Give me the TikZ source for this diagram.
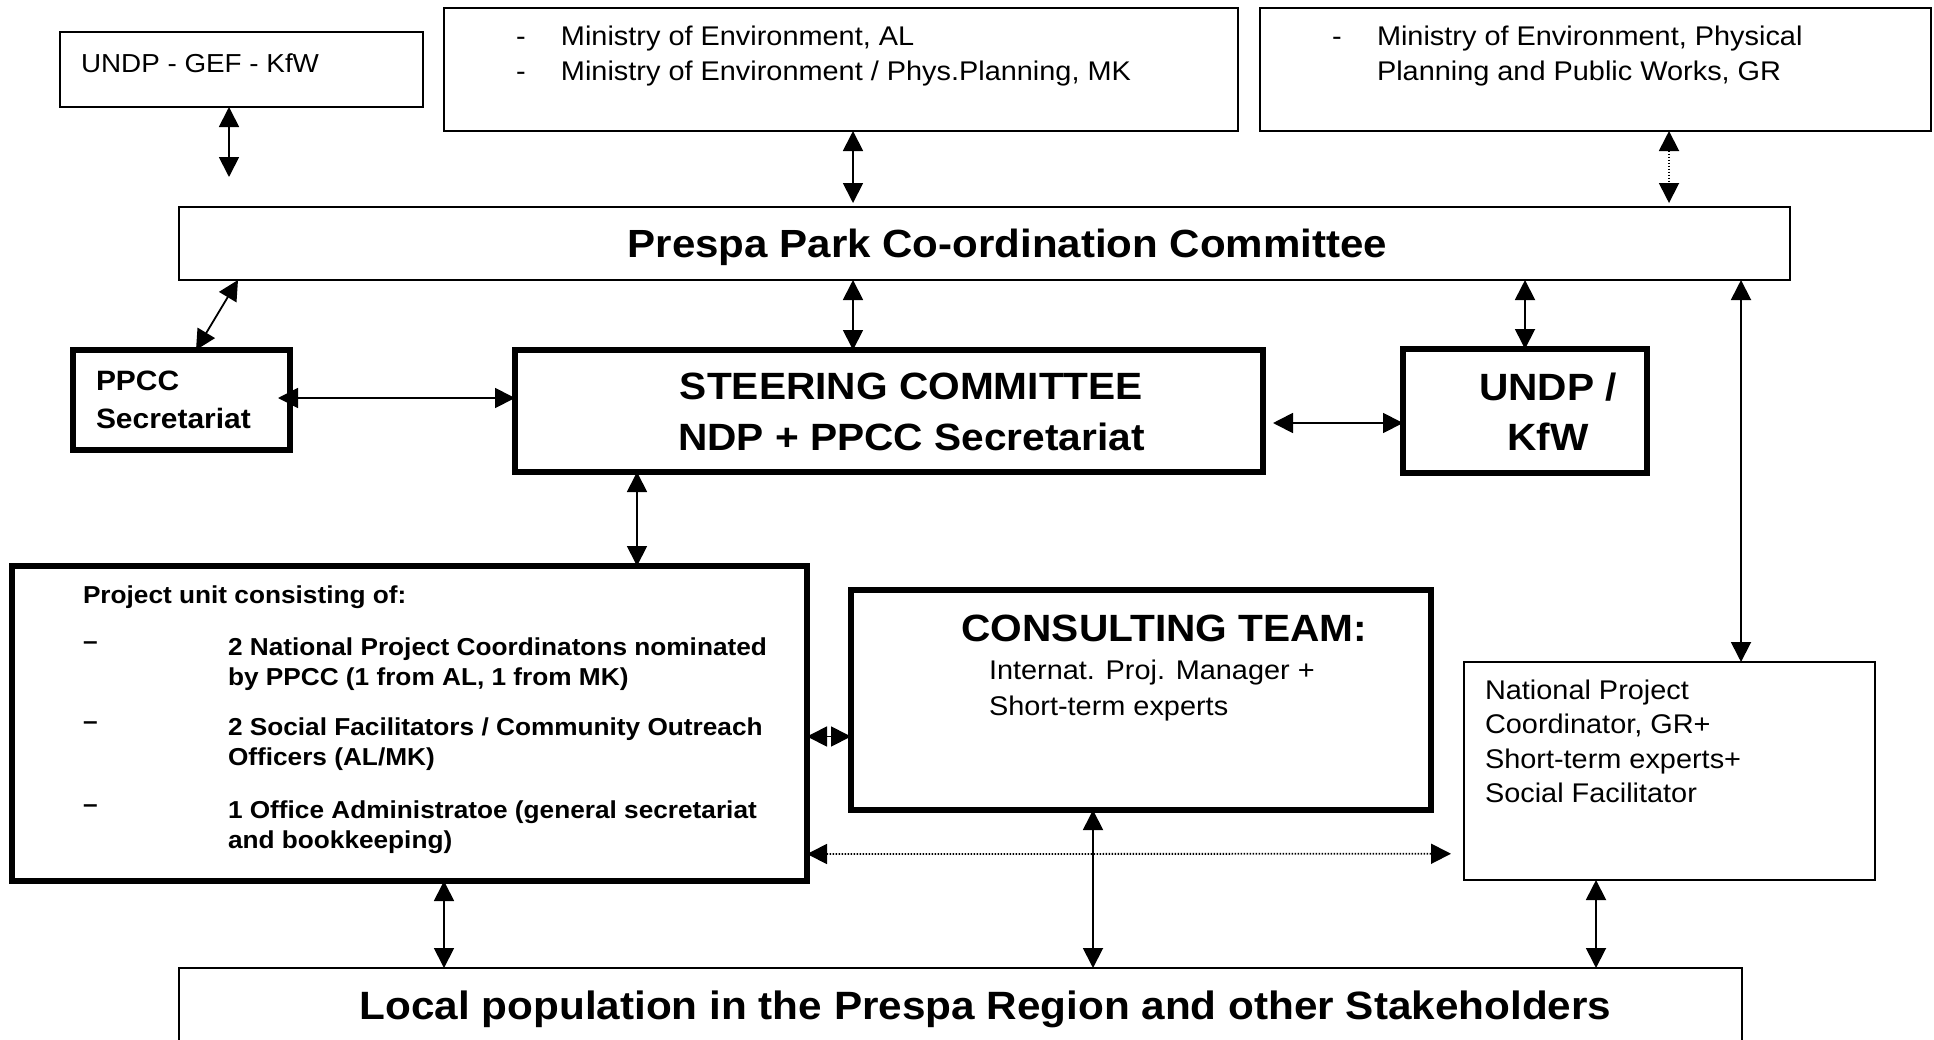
\documentclass[tikz,border=0pt]{standalone}
\usepackage{fontspec}
\setmainfont{Liberation Sans}[FakeStretch=1.07]
\usepackage{tikz}
\usetikzlibrary{arrows.meta}
\tikzset{
    thin-box/.style = {draw, line width=2pt, rectangle, inner sep=0pt, outer sep=0pt, anchor=north west},
    thick-box/.style = {thin-box, line width=5.5pt},
    both-arrow/.style = {line width=1.8pt, {Triangle[length=20pt,width=20pt]}-{Triangle[length=20pt,width=20pt]}},
    dot-arrow/.style = {both-arrow, dash pattern=on 1.5pt off 1.5pt},
}
\begin{document}
\begin{tikzpicture}[x=1pt,y=-1pt]
\useasboundingbox (0,0) rectangle (1934,1039);
\clip (0,0) rectangle (1934,1039);
\node[thin-box] (undp) at (60,32) {\begin{minipage}[t][75pt][t]{363pt}
    \fontsize{26}{31}\selectfont\rule{0pt}{40pt}\hspace*{21pt}UNDP - GEF - KfW
\end{minipage}};
\node[thin-box] (minal) at (444,8) {\begin{minipage}[t][123pt][t]{794pt}
    \fontsize{27}{35}\selectfont
    \rule{0pt}{37pt}\hspace*{72pt}\makebox[45pt][l]{-}Ministry of Environment, AL\\
    \hspace*{72pt}\makebox[45pt][l]{-}Ministry of Environment / Phys.Planning, MK
\end{minipage}};
\node[thin-box] (mingr) at (1260,8) {\begin{minipage}[t][123pt][t]{671pt}
    \fontsize{27}{35}\selectfont
    \rule{0pt}{37pt}\hspace*{72pt}\makebox[45pt][l]{-}Ministry of Environment, Physical\\
    \hspace*{117pt}Planning and Public Works, GR
\end{minipage}};
\node[thin-box] (ppcc) at (179,207) {\begin{minipage}[t][73pt][t]{1611pt}
    \centering\bfseries\fontsize{39.3}{45}\selectfont
    \rule{0pt}{50pt}\hspace*{46pt}Prespa Park Co-ordination Committee
\end{minipage}};
\node[thick-box] (sec) at (73,350) {\begin{minipage}[t][100pt][t]{217pt}
    \bfseries\fontsize{28}{38}\selectfont
    \rule{0pt}{40pt}\hspace*{23pt}PPCC\\
    \hspace*{23pt}Secretariat
\end{minipage}};
\node[thick-box] (steer) at (515,350) {\begin{minipage}[t][122pt][t]{748pt}
    \centering\bfseries\fontsize{38}{51}\selectfont
    \rule{0pt}{49pt}\hspace*{45pt}STEERING COMMITTEE\\
    \hspace*{45pt}NDP + PPCC Secretariat
\end{minipage}};
\node[thick-box] (kfw) at (1403,349) {\begin{minipage}[t][124pt][t]{244pt}
    \centering\bfseries\fontsize{38}{50}\selectfont
    \rule{0pt}{51pt}\hspace*{46pt}UNDP /\\
    \hspace*{46pt}KfW
\end{minipage}};
\node[thick-box] (proj) at (12,566) {\begin{minipage}[t][315pt][t]{795pt}
    \bfseries\fontsize{24.5}{30}\selectfont
    \rule{0pt}{37pt}\hspace*{71pt}Project unit consisting of:\\[22pt]
    \hspace*{71pt}\makebox[145pt][l]{\raisebox{6pt}{–}}2 National Project Coordinatons nominated\\
    \hspace*{216pt}by PPCC (1 from AL, 1 from MK)\\[20pt]
    \hspace*{71pt}\makebox[145pt][l]{\raisebox{6pt}{–}}2 Social Facilitators / Community Outreach\\
    \hspace*{216pt}Officers (AL/MK)\\[23pt]
    \hspace*{71pt}\makebox[145pt][l]{\raisebox{6pt}{–}}1 Office Administratoe (general secretariat\\
    \hspace*{216pt}and bookkeeping)
\end{minipage}};
\node[thick-box] (cons) at (851,590) {\begin{minipage}[t][220pt][t]{580pt}
    {\centering\bfseries\fontsize{38}{40}\selectfont
    \rule{0pt}{51pt}\hspace*{47pt}CONSULTING TEAM:\par}
    \vspace{2pt}\fontsize{27}{36}\selectfont
    \hspace*{138pt}Internat. Proj. Manager +\\
    \hspace*{138pt}Short-term experts
\end{minipage}};
\node[thin-box] (nat) at (1464,662) {\begin{minipage}[t][218pt][t]{411pt}
    \fontsize{27}{34.5}\selectfont
    \rule{0pt}{37pt}\hspace*{21pt}National Project\\
    \hspace*{21pt}Coordinator, GR+\\
    \hspace*{21pt}Short-term experts+\\
    \hspace*{21pt}Social Facilitator
\end{minipage}};
\node[thin-box] (local) at (179,968) {\begin{minipage}[t][120pt][t]{1563pt}
    \centering\bfseries\fontsize{39.5}{45}\selectfont
    \rule{0pt}{51pt}\hspace*{50pt}Local population in the Prespa Region and other Stakeholders
\end{minipage}};
\coordinate (undp-end) at (229,177);
\draw[both-arrow] (undp.south -| undp-end) -- (undp-end);
\draw[both-arrow, shorten >=4pt] ([xshift=409pt]minal.south west) -- ([xshift=674pt]ppcc.north west);
\draw[dot-arrow, shorten >=4pt] ([xshift=409pt]mingr.south west) -- ([xshift=1490pt]ppcc.north west);
\draw[both-arrow] ([xshift=59pt]ppcc.south west) -- ([xshift=123pt]sec.north west);
\draw[both-arrow] ([xshift=674pt]ppcc.south west) -- ([xshift=338pt]steer.north west);
\draw[both-arrow] ([xshift=1346pt]ppcc.south west) -- ([xshift=122pt]kfw.north west);
\draw[both-arrow] ([xshift=1562pt]ppcc.south west) -- ([xshift=277pt]nat.north west);
\draw[both-arrow] ([xshift=-12pt,yshift=2pt]sec.east) -- ([yshift=13pt]steer.west);
\draw[both-arrow] ([xshift=10pt,yshift=-12pt]steer.east) -- ([yshift=-12pt]kfw.west);
\draw[both-arrow] ([xshift=122pt]steer.south west) -- ([xshift=625pt]proj.north west);
\draw[both-arrow] ([yshift=-13pt]proj.east) -- ([yshift=-36.5pt]cons.west);
\draw[dot-arrow] ([yshift=-130.5pt]proj.east) -- ([xshift=-13pt,yshift=-82.75pt]nat.west);
\draw[both-arrow] ([xshift=432pt]proj.south west) -- ([xshift=265pt]local.north west);
\draw[both-arrow] ([xshift=242pt]cons.south west) -- ([xshift=914pt]local.north west);
\draw[both-arrow] ([xshift=132pt]nat.south west) -- ([xshift=1417pt]local.north west);
\end{tikzpicture}
\end{document}
